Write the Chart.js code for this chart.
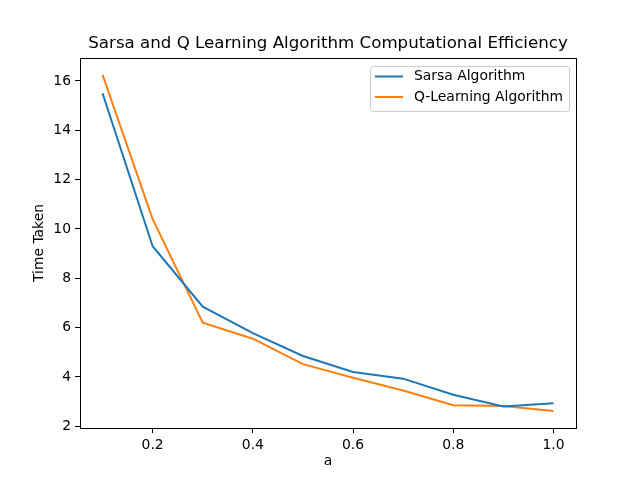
<!DOCTYPE html>
<html>
<head>
<meta charset="utf-8">
<script src="https://cdn.jsdelivr.net/npm/chart.js@4"></script>
<style>
html,body{margin:0;padding:0;background:#fff;}
#wrap{width:640px;height:480px;position:relative;}
</style>
</head>
<body>
<div id="wrap"><canvas id="c" width="640" height="480"></canvas></div>
<script>
const alphaValues = [0.1, 0.2, 0.3, 0.4, 0.5, 0.6, 0.7, 0.8, 0.9, 1.0];
const sarsaTimes = [15.5, 9.3, 6.85, 5.78, 4.85, 4.2, 3.93, 3.28, 2.8, 2.93];
const qLearningTimes = [16.25, 10.4, 6.2, 5.55, 4.52, 3.97, 3.45, 2.85, 2.82, 2.62];
const xTickValues = [0.2, 0.4, 0.6, 0.8, 1.0];
const yTickValues = [2, 4, 6, 8, 10, 12, 14, 16];
const seriesNames = ['Sarsa Algorithm', 'Q-Learning Algorithm'];
const seriesColors = ['#1f77b4', '#ff7f0e'];
const chartTitle = 'Sarsa and Q Learning Algorithm Computational Efficiency';
const xTitle = 'a';
const yTitle = 'Time Taken';

const FONT = "'DejaVu Sans', sans-serif";
Chart.defaults.font.family = FONT;
Chart.defaults.color = '#000';

const toPts = (ys) => ys.map((y, i) => ({x: alphaValues[i], y: y}));

const frameAndLegend = {
  id: 'frameAndLegend',
  afterDraw(chart) {
    const {ctx, chartArea: a} = chart;
    ctx.save();
    ctx.strokeStyle = '#000';
    ctx.lineWidth = 1;
    ctx.strokeRect(Math.round(a.left) + 0.5, Math.round(a.top) + 0.5,
                   Math.round(a.right - a.left), Math.round(a.bottom - a.top));
    // legend box
    const bx = 370, by = 66, bw = 199, bh = 45;
    ctx.fillStyle = 'rgba(255,255,255,0.8)';
    ctx.strokeStyle = '#cccccc';
    ctx.beginPath();
    if (ctx.roundRect) ctx.roundRect(bx + 0.5, by + 0.5, bw, bh, 3); else ctx.rect(bx + 0.5, by + 0.5, bw, bh);
    ctx.fill();
    ctx.stroke();
    ctx.font = "13.9px " + FONT;
    ctx.textBaseline = 'middle';
    chart.data.datasets.forEach((ds, i) => {
      const yy = by + 10.5 + i * 20.5;
      ctx.strokeStyle = ds.borderColor;
      ctx.lineWidth = 2;
      ctx.beginPath();
      ctx.moveTo(375, yy);
      ctx.lineTo(403, yy);
      ctx.stroke();
      ctx.fillStyle = '#000';
      ctx.fillText(ds.label, 414, yy);
    });
    ctx.restore();
  }
};

new Chart(document.getElementById('c'), {
  type: 'line',
  data: {
    datasets: [
      {label: seriesNames[0], data: toPts(sarsaTimes), borderColor: seriesColors[0], backgroundColor: seriesColors[0], borderWidth: 2, pointRadius: 0, tension: 0, fill: false},
      {label: seriesNames[1], data: toPts(qLearningTimes), borderColor: seriesColors[1], backgroundColor: seriesColors[1], borderWidth: 2, pointRadius: 0, tension: 0, fill: false}
    ]
  },
  options: {
    responsive: false,
    animation: false,
    devicePixelRatio: 1,
    layout: {padding: {left: 0, right: 64, top: 0, bottom: 0}},
    plugins: {
      legend: {display: false},
      tooltip: {enabled: false},
      title: {
        display: true,
        text: chartTitle,
        fullSize: false,
        font: {size: 16.67, weight: 'normal', family: FONT},
        color: '#000',
        padding: {top: 34, bottom: 4}
      }
    },
    scales: {
      x: {
        type: 'linear',
        min: 0.055,
        max: 1.045,
        afterBuildTicks: (s) => { s.ticks = xTickValues.map(v => ({value: v})); },
        afterFit: (s) => { s.height = 52; },
        grid: {display: true, drawOnChartArea: false, drawTicks: true, tickLength: 5, tickColor: '#000', color: '#000'},
        border: {display: true, color: '#000', width: 1},
        ticks: {font: {size: 13.9}, color: '#000', padding: 4, maxRotation: 0,
                callback: (v) => Number(v).toFixed(1)},
        title: {display: true, text: xTitle, font: {size: 13.9}, color: '#000', padding: {top: 0, bottom: 10}}
      },
      y: {
        type: 'linear',
        min: 1.93,
        max: 16.93,
        afterBuildTicks: (s) => { s.ticks = yTickValues.map(v => ({value: v})); },
        afterFit: (s) => { s.width = 80; },
        grid: {display: true, drawOnChartArea: false, drawTicks: true, tickLength: 5, tickColor: '#000', color: '#000'},
        border: {display: true, color: '#000', width: 1},
        ticks: {font: {size: 13.9}, color: '#000', padding: 4,
                callback: (v) => String(v)},
        title: {display: true, text: yTitle, font: {size: 13.9}, color: '#000', padding: {top: 31, bottom: 0}}
      }
    }
  },
  plugins: [frameAndLegend]
});
</script>
</body>
</html>
